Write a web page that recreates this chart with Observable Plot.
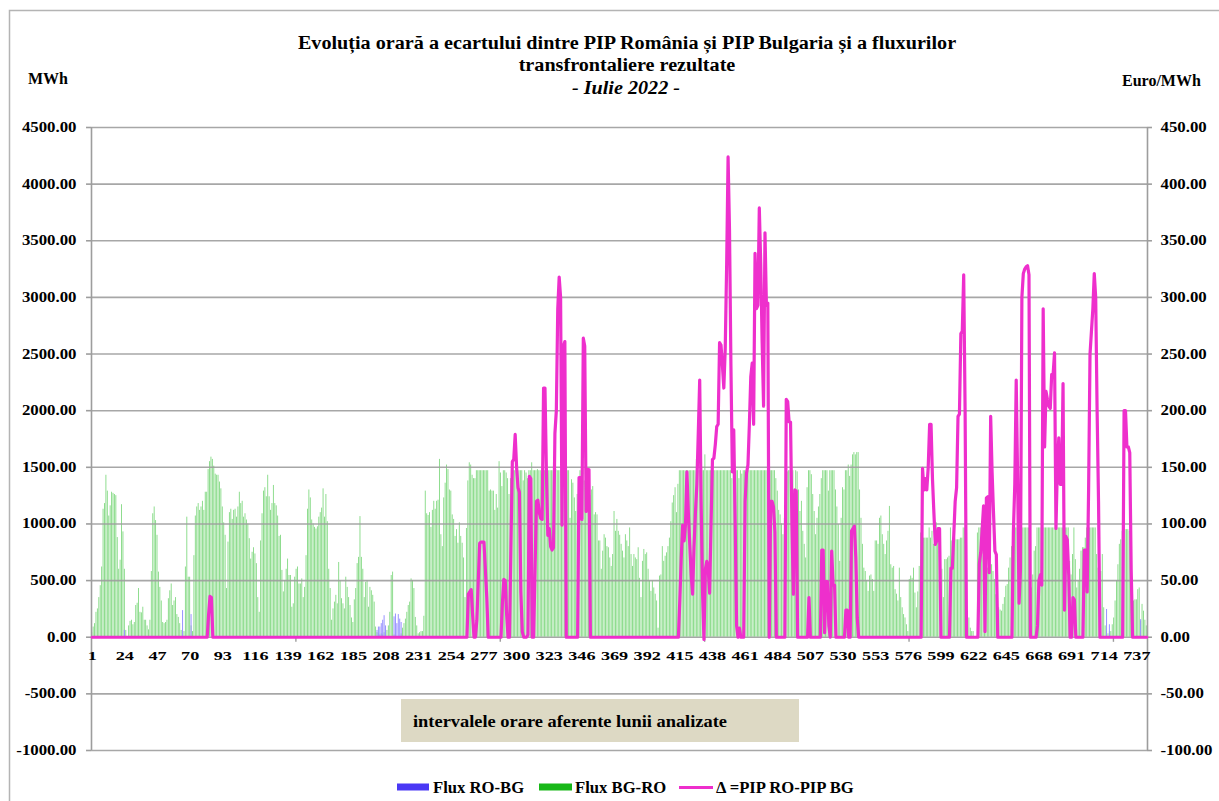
<!DOCTYPE html>
<html><head><meta charset="utf-8">
<script src="https://cdn.jsdelivr.net/npm/d3@7"></script>
<script src="https://cdn.jsdelivr.net/npm/@observablehq/plot@0.6"></script>
<style>
body{margin:0;background:#fff;}
#chart svg{display:block}
</style></head><body><div id="chart"></div>
<script>
// ---- text ----
const titleLines = ["Evoluția orară a ecartului dintre PIP România și PIP Bulgaria și a fluxurilor", "transfrontaliere rezultate", "- Iulie 2022 -"];
const leftUnit = "MWh";
const rightUnit = "Euro/MWh";
const boxLabel = "intervalele orare aferente lunii analizate";
const seriesNames = ["Flux RO-BG", "Flux BG-RO", "Δ =PIP RO-PIP BG"];

// ---- ticks ----
const leftTicks = [-1000, -500, 0, 500, 1000, 1500, 2000, 2500, 3000, 3500, 4000, 4500]; // MWh
const rightTicks = [-100, -50, 0, 50, 100, 150, 200, 250, 300, 350, 400, 450];          // Euro/MWh
const xTickLabels = [1,24,47,70,93,116,139,162,185,208,231,254,277,300,323,346,369,392,415,438,461,484,507,530,553,576,599,622,645,668,691,714,737];
const xTickMarks = [144.5, 288.5, 432.5, 576.5, 720.5];

// ---- Flux BG-RO (MWh), one row per day, 24 hours each ----
const flowBGRODays = [
[40,90,120,220,250,350,455,620,1130,1180,1430,1290,1070,1160,1280,1270,1260,1250,880,600,680,1170,930,600],
[60,0,100,140,150,110,130,280,300,430,220,215,265,150,150,100,65,150,580,1090,1150,1030,900,575],
[440,320,130,120,130,150,340,410,470,280,320,350,200,175,120,60,0,50,620,1060,530,530,100,50],
[720,1070,1150,1180,1120,1150,1200,1120,1280,1280,1480,1550,1590,1570,1510,1440,1430,1430,1370,1310,1150,1010,900,430],
[840,1100,1130,1040,1120,1130,1060,1150,1280,1180,1200,1060,1090,1035,1000,870,690,750,790,735,650,350,220,850],
[1090,1290,1320,1240,1430,1240,1120,1180,1340,1180,1160,1070,890,900,590,400,500,600,690,545,545,265,295,530],
[600,620,470,470,515,350,440,720,1130,1300,1230,1035,1000,970,955,975,1060,1100,1140,1310,1060,1260,1020,600],
[430,150,250,310,370,295,660,500,340,295,250,530,440,350,280,170,130,330,430,650,705,1065,705,600],
[350,485,500,265,440,410,370,310,90,40,30,20,30,20,40,30,60,100,220,545,575,20,0,0],
[0,0,30,80,120,160,220,280,310,515,500,430,175,100,30,40,50,50,185,1290,1090,1075,1100,970],
[1120,1200,1130,1200,1210,1570,905,800,1230,1360,1520,1480,1300,1290,1080,1040,890,950,830,1010,890,830,700,350],
[960,1380,1540,1520,1430,1400,1400,1470,1470,1470,1470,1470,1470,1470,1470,1470,1290,1300,1290,1290,1120,1260,1140,1550],
[1450,1330,1470,1470,1450,1400,1260,1400,1540,1470,1470,1470,1470,1470,1470,1470,1380,1470,1450,1400,1470,1470,1540,1470],
[1470,1470,1480,1470,1470,1380,1470,1470,1470,1480,1470,1470,1470,1470,1470,1480,1470,1470,1470,1470,1480,1470,1470,1470],
[1470,1050,1390,1360,1230,1110,1260,1300,1470,1470,1480,1380,1230,1140,1290,1250,1300,1330,1080,1100,1080,850,850,600],
[760,905,875,800,790,700,625,730,1110,935,1040,935,900,820,760,700,905,850,800,965,730,625,730,700],
[685,790,520,350,670,775,730,745,600,495,405,495,435,380,320,80,540,550,800,670,715,745,800,875],
[1020,1185,1250,1320,1100,1350,1470,1470,1470,1470,1470,1470,1470,1470,1470,1470,1470,1470,1570,1470,1470,1470,1470,1470],
[1610,1470,1470,1470,1470,1470,1470,1470,1470,1470,1470,1470,1470,1470,1470,1470,1470,1470,1470,1400,1470,1470,1470,1470],
[1400,1470,1440,1470,1470,1470,1470,1470,1470,1470,1470,1470,1470,1470,1470,1470,1470,1470,1470,1470,1470,1470,1470,1470],
[1470,1470,1400,1290,1120,1080,1000,905,1050,1290,1460,1470,1470,1230,1470,1110,1470,1460,1300,1110,1200,935,820,700],
[1320,1470,1470,1435,1260,1110,905,1050,1150,1260,1400,1470,1470,1470,1470,1290,1470,1470,1470,1470,1300,1150,995,670],
[1050,1320,1300,1470,1470,1520,1420,1520,1610,1630,1610,1630,1630,1300,1050,820,610,580,500,405,540,550,510,405],
[850,850,820,1050,1070,905,820,730,850,935,1155,640,610,625,420,380,320,610,350,260,200,170,110,50],
[510,540,520,610,390,260,400,625,920,1110,875,875,875,875,965,875,935,820,860,1010,935,935,830,600],
[350,685,685,700,715,965,850,860,875,860,860,860,875,875,965,965,405,230,170,80,50,50,0,0],
[920,965,965,965,980,935,760,610,670,640,640,580,510,375,320,260,240,230,290,350,450,465,610,700],
[800,965,965,965,965,965,965,965,965,965,965,965,965,640,435,550,760,800,965,965,965,965,965,965],
[965,965,965,965,965,965,965,965,965,965,965,965,965,965,965,965,965,670,550,730,965,685,435,495],
[600,760,790,790,875,965,965,965,965,965,965,965,730,610,715,580,730,260,100,50,30,50,50,110],
[170,320,500,640,820,860,935,950,950,950,950,935,730,520,320,330,330,420,435,140,290,230,150,100]
];

// ---- Flux RO-BG (MWh): [first hour, values...]; all other hours 0 ----
const flowROBGRuns = [[24,[60]],[65,[235]],[71,[200]],[202,[60,90,90,120,150,190,100]],[214,[180,205,120,200,160,130]],[716,[245]],[718,[110]],[740,[155]]];

// ---- Δ = PIP RO - PIP BG (Euro/MWh): [first hour, values...]; all other hours 0 ----
const deltaRuns = [
 [83, [20,36,35]],
 [266, [38,40,42,20,0,0,15,50,83,84,84,84,60,35]],
 [290, [30,51,50,20]],
 [296, [80,155,157,179,150,132,128,40,5]],
 [308, [2,142,140]],
 [313, [60,120,121,110,105,104,220,220,146,90,96,80,77,79,180,200,290,318,300,99,257,261]],
 [344, [141,141,104,264,257,111,148,148]],
 [415, [33,70,99,85,100,146,110,82,55,38,80,110,135,180,227,120,40,-2,60,67,60,39,100,157,158,170,186,188,260,258,240,220,255,329,424,360,240,146,183,100,10,0,8]],
 [461, [120,145,152,188,230,242,188,339,290,293,379,330,260,204,357,293,295,0,120,120,115,93]],
 [490, [210,208,190,190,100,38,130,129]],
 [506, [35]],
 [515, [77,77,4,49,49,10,0,76,46,46]],
 [532, [24,24,0,0,94,96,98,70,17]],
 [586, [149,130,140,130,150,188,188,140,110,82,85,96,96]],
 [606, [61,61,90,120,132,195,197,268,270,320,200]],
 [626, [65,75,95,116,5,123,124,57,195,146,110,76,73]],
 [650, [93,135,227,140,30,60,300,321,325,327,328,320]],
 [667, [10,50,55,46,290,168,217,210,204,202,232,232,251,96,150,176,135,135,224,24,89,86,55]],
 [692, [35,33]],
 [700, [77,77,40,130,250,270,290,321,300,200,120]],
 [728, [200,200,168,168,163,60]]
];

// ---- build hourly table ----
const N = 744;
const flowBGRO = flowBGRODays.flat();
function fromRuns(runs) {
  const a = new Array(N).fill(0);
  runs.forEach(([start, vals]) => vals.forEach((v, i) => { a[start - 1 + i] = v; }));
  return a;
}
const flowROBG = fromRuns(flowROBGRuns);
const delta = fromRuns(deltaRuns);
const rows = d3.range(N).map(i => ({h: i + 1, bg: flowBGRO[i], ro: flowROBG[i], d: delta[i]}));

const FONT = "'Liberation Serif','Times New Roman',Times,serif";
const GRID = "#9d9d9d";

const plot = Plot.plot({
  width: 1219, height: 801,
  marginLeft: 91, marginRight: 72, marginTop: 127, marginBottom: 51,
  x: {domain: [0.5, 744.5], axis: null},
  y: {domain: [-1000, 4500], axis: null},
  style: {fontFamily: FONT, background: "white", overflow: "visible"},
  marks: [
    Plot.rect(rows, {x1: d => d.h - 0.5, x2: d => d.h + 0.5, y1: 0, y2: "bg", fill: "#86da86", insetLeft: 0.25, insetRight: 0.25}),
    Plot.rect(rows.filter(d => d.ro > 0), {x1: d => d.h - 0.5, x2: d => d.h + 0.5, y1: 0, y2: "ro", fill: "#9a94ff", insetLeft: 0.2, insetRight: 0.2}),
    Plot.ruleY(leftTicks, {stroke: GRID, strokeWidth: 1.6, strokeOpacity: 0.9}),
    Plot.ruleX([0.5, 744.5], {y1: -1000, y2: 4500, stroke: GRID, strokeWidth: 1.6}),
    Plot.ruleY(leftTicks, {x1: -3, x2: 0.5, stroke: GRID, strokeWidth: 1.6}),
    Plot.ruleY(leftTicks, {x1: 744.5, x2: 748, stroke: GRID, strokeWidth: 1.6}),
    Plot.ruleX(xTickMarks, {y1: 0, y2: -45, stroke: GRID, strokeWidth: 1.4}),
    Plot.line(rows, {x: "h", y: d => d.d * 10, stroke: "#ee2fcc", strokeWidth: 3.2, strokeLinejoin: "round"}),
    Plot.text(leftTicks, {x: 0.5, y: d => d, text: d => d.toFixed(2), textAnchor: "end", dx: -15, fontSize: 14, fontWeight: "bold", fill: "black"}),
    Plot.text(rightTicks, {x: 744.5, y: d => d * 10, text: d => d.toFixed(2), textAnchor: "start", dx: 13, fontSize: 14, fontWeight: "bold", fill: "black"}),
    Plot.text(xTickLabels, {x: d => d, y: 0, dy: 19, text: d => String(d), fontSize: 13, fontWeight: "bold", fill: "black"})
  ]
});

document.getElementById("chart").append(plot);

// horizontally widen the axis labels (as in the reference rendering)
function widen(t, k) {
  const w = t.getComputedTextLength();
  t.setAttribute("textLength", (w * k).toFixed(1));
  t.setAttribute("lengthAdjust", "spacingAndGlyphs");
}
plot.querySelectorAll("text").forEach(t => widen(t, t.textContent.includes(".") ? 1.2 : 1.4));

const svg = d3.select(plot);
// outer chart border
svg.append("path").attr("d", "M9.5,801 V10.5 H1219").attr("fill", "none").attr("stroke", "#b4b4b4").attr("stroke-width", 1.5);

const g = svg.append("g").attr("font-family", FONT).attr("font-weight", "bold").attr("fill", "black").attr("text-anchor", "start");
const t1 = g.append("text").attr("x", 627).attr("y", 49).attr("text-anchor", "middle").attr("font-size", 18).text(titleLines[0]);
const t2 = g.append("text").attr("x", 627).attr("y", 71).attr("text-anchor", "middle").attr("font-size", 18).text(titleLines[1]);
const t3 = g.append("text").attr("x", 626).attr("y", 94).attr("text-anchor", "middle").attr("font-size", 18).attr("font-style", "italic").text(titleLines[2]);
[t1, t2, t3].forEach(t => widen(t.node(), 1.12));
g.append("text").attr("x", 28).attr("y", 84).attr("font-size", 16).text(leftUnit);
g.append("text").attr("x", 1122).attr("y", 86).attr("font-size", 16).text(rightUnit);

// annotation box
g.append("rect").attr("x", 401).attr("y", 699).attr("width", 398).attr("height", 43).attr("fill", "#ddd9c4");
const tb = g.append("text").attr("x", 413).attr("y", 727).attr("font-size", 17).text(boxLabel);
widen(tb.node(), 314 / tb.node().getComputedTextLength());

// legend
g.append("rect").attr("x", 397).attr("y", 783.5).attr("width", 32).attr("height", 7).attr("fill", "#4a38f5");
const l1 = g.append("text").attr("x", 433).attr("y", 792.5).attr("font-size", 16).text(seriesNames[0]);
g.append("rect").attr("x", 539).attr("y", 783.5).attr("width", 33).attr("height", 7).attr("fill", "#18b818");
const l2 = g.append("text").attr("x", 575).attr("y", 792.5).attr("font-size", 16).text(seriesNames[1]);
g.append("line").attr("x1", 679).attr("x2", 713).attr("y1", 787.5).attr("y2", 787.5).attr("stroke", "#ee2fcc").attr("stroke-width", 3);
const l3 = g.append("text").attr("x", 716).attr("y", 792.5).attr("font-size", 16).text(seriesNames[2]);
[l1, l2, l3].forEach(t => widen(t.node(), 1.04));
</script>
</body></html>
